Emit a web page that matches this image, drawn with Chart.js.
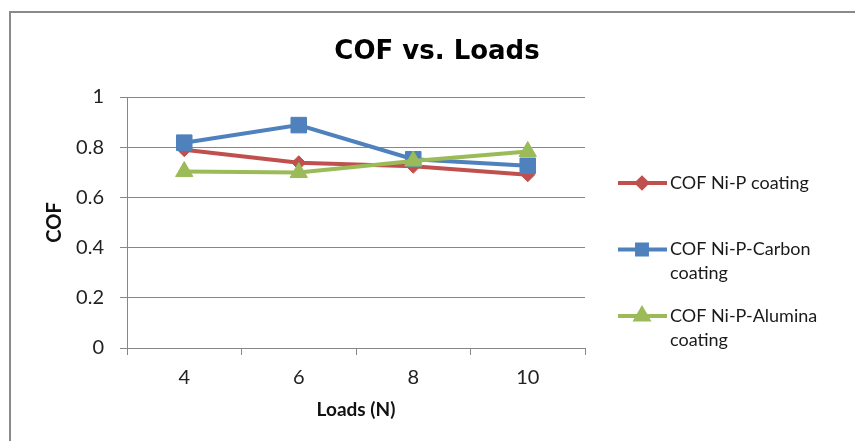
<!DOCTYPE html>
<html>
<head>
<meta charset="utf-8">
<title>COF vs. Loads</title>
<script src="https://cdn.jsdelivr.net/npm/chart.js@4.4.0/dist/chart.umd.min.js"></script>
<style>
    html, body { margin: 0; padding: 0; background: #fff; }
    #wrap { position: relative; width: 855px; height: 441px; overflow: hidden; }
    #frame { position: absolute; left: 9px; top: 11px; width: 900px; height: 500px; border: 2px solid #8a8a8a; }
    canvas { position: absolute; left: 0; top: 0; }
</style>
</head>
<body>
<div id="wrap">
    <div id="frame"></div>
    <canvas id="cofChart" width="855" height="441"></canvas>
</div>
<script>
// --- Data ---
const chartTitle = 'COF vs. Loads';
const loads = ['4', '6', '8', '10'];
const seriesNames = ['COF Ni-P coating', 'COF Ni-P-Carbon coating', 'COF Ni-P-Alumina coating'];
const cofNiP = [0.79, 0.738, 0.724, 0.69];
const cofNiPCarbon = [0.818, 0.888, 0.752, 0.726];
const cofNiPAlumina = [0.703, 0.699, 0.745, 0.783];
const yTicks = [0, 0.2, 0.4, 0.6, 0.8, 1];

const seriesColors = ['#C0504D', '#4F81BD', '#9BBB59'];
const markers = ['rectRot', 'rect', 'triangle'];
const markerSizes = [7, 11, 10];
const legendMarkerSizes = [5, 7, 7];
const fontFamily = 'Lato, "Open Sans", sans-serif';
const axisColor = '#878787';

// --- Title + wrapped legend on the right, Excel style ---
const excelDecor = {
    id: 'excelDecor',
    afterDraw(chart) {
        const ctx = chart.ctx;
        ctx.save();
        ctx.fillStyle = '#000';
        ctx.font = 'bold 26px "DejaVu Sans", sans-serif';
        ctx.textAlign = 'center';
        ctx.textBaseline = 'middle';
        ctx.fillText(chartTitle, 437, 52);

        ctx.font = `18px ${fontFamily}`;
        ctx.textAlign = 'left';
        const textX = 670;
        const maxW = 855 - textX - 8;
        chart.data.datasets.forEach((ds, i) => {
            const rowY = 183 + i * 66.5;
            // word wrap
            const words = ds.label.split(' ');
            const lines = [];
            let cur = '';
            words.forEach(w => {
                const test = cur ? cur + ' ' + w : w;
                if (ctx.measureText(test).width > maxW && cur) {
                    lines.push(cur);
                    cur = w;
                } else {
                    cur = test;
                }
            });
            lines.push(cur);

            ctx.strokeStyle = ds.borderColor;
            ctx.lineWidth = 4;
            ctx.beginPath();
            ctx.moveTo(618, rowY);
            ctx.lineTo(667, rowY);
            ctx.stroke();

            ctx.fillStyle = ds.backgroundColor;
            Chart.helpers.drawPoint(ctx, {
                pointStyle: ds.pointStyle,
                radius: legendMarkerSizes[i],
                rotation: 0,
                borderWidth: 1
            }, 642, rowY);
            ctx.fill();

            ctx.fillStyle = '#1a1a1a';
            lines.forEach((ln, k) => ctx.fillText(ln, textX, rowY + k * 24));
        });
        ctx.restore();
    }
};

const seriesData = [cofNiP, cofNiPCarbon, cofNiPAlumina];

new Chart(document.getElementById('cofChart'), {
    type: 'line',
    data: {
        labels: loads,
        datasets: seriesData.map((vals, i) => ({
            label: seriesNames[i],
            data: vals,
            borderColor: seriesColors[i],
            backgroundColor: seriesColors[i],
            borderWidth: 4,
            pointStyle: markers[i],
            pointRadius: markerSizes[i],
            pointHoverRadius: markerSizes[i],
            pointBorderWidth: 1,
            tension: 0,
            order: 2 - i
        }))
    },
    options: {
        responsive: false,
        animation: false,
        devicePixelRatio: 1,
        layout: { padding: { top: 97, right: 270, left: 0, bottom: 0 } },
        plugins: {
            legend: { display: false },
            title: { display: false },
            tooltip: { enabled: false }
        },
        scales: {
            x: {
                offset: true,
                grid: {
                    offset: true,
                    drawOnChartArea: false,
                    drawTicks: true,
                    tickLength: 7,
                    color: axisColor
                },
                border: { color: axisColor, width: 1 },
                ticks: {
                    padding: 11,
                    maxRotation: 0,
                    color: '#222',
                    font: { family: fontFamily, size: 20 }
                },
                title: {
                    display: true,
                    text: 'Loads (N)',
                    color: '#111',
                    font: { family: fontFamily, size: 19, weight: 'bold' },
                    padding: { top: 0, bottom: 20 }
                },
                afterFit: scale => { scale.height = 93; }
            },
            y: {
                min: 0,
                max: 1,
                afterBuildTicks: scale => { scale.ticks = yTicks.map(v => ({ value: v })); },
                grid: { color: axisColor, tickLength: 7 },
                border: { color: axisColor, width: 1 },
                ticks: {
                    padding: 16,
                    color: '#222',
                    font: { family: fontFamily, size: 20 },
                    callback: v => String(v)
                },
                title: {
                    display: true,
                    text: 'COF',
                    color: '#111',
                    font: { family: fontFamily, size: 20, weight: 'bold' },
                    padding: { top: 43, bottom: 0 }
                },
                afterFit: scale => { scale.width = 127; }
            }
        }
    },
    plugins: [excelDecor]
});
</script>
</body>
</html>
